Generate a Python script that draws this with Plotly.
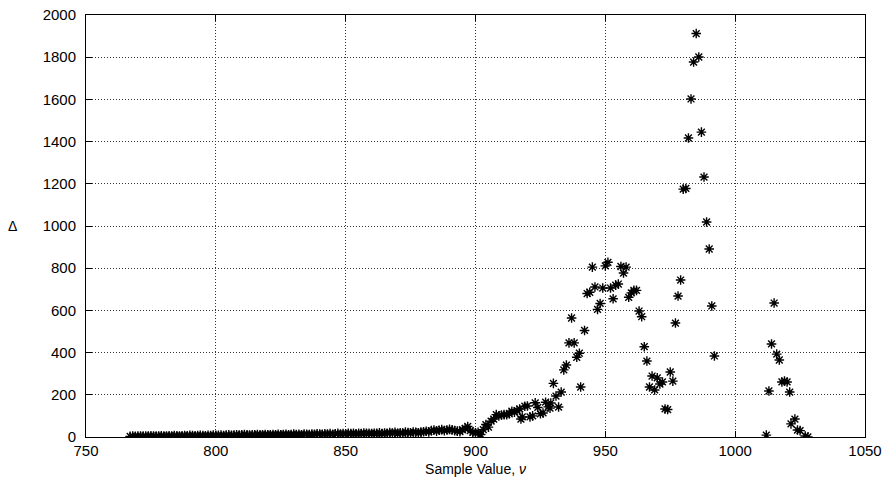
import plotly.graph_objects as go

# Low tail (integer sample values 767..899)
tail_x = list(range(767, 900))
tail_y = [3, 4, 3, 5, 4, 4, 5, 4, 6, 5, 4, 5, 6, 5,
          5, 6, 5, 7, 6, 5, 6, 7, 6, 8, 7, 6, 7, 8, 7, 6, 8, 7, 9, 8,
          8, 9, 7, 9, 10, 8, 9, 11, 9, 10, 12, 10, 9, 11, 10, 12, 11, 10, 12, 11,
          11, 12, 10, 13, 11, 12, 13, 11, 12, 14, 12, 13, 11, 14, 13, 12, 14, 13, 15, 14,
          13, 15, 14, 16, 13, 15, 17, 14, 16, 15, 17, 16, 18, 15, 17, 16, 19, 17, 18, 16,
          18, 17, 20, 16, 19, 18, 21, 19, 22, 17, 20, 19, 23, 21, 19, 24, 22, 20, 23, 25,
          27, 24, 30, 33, 28, 32, 35, 30, 33, 36, 34, 30, 28, 25, 35, 40, 50, 30, 22]

# Rising part and peaks
peak_x = [900, 901, 902, 903, 904, 905, 906, 907, 908, 909, 910, 911, 912, 913, 914,
          915, 916, 917, 917.5, 918, 919, 920, 921, 922, 923, 924, 925, 926, 927, 928,
          928.7, 929, 930, 931, 932, 933, 934, 935, 936, 937, 938, 939, 940, 940.5,
          942, 943, 944, 945, 946, 947, 948, 949, 950, 951, 952, 953, 954, 955, 956,
          957, 958, 959, 960, 961, 962, 963, 964, 965, 966, 967, 968, 969, 970, 971,
          972, 973, 974, 975, 976, 977, 978, 979, 980, 981, 982, 983, 984, 985, 986,
          987, 988, 989, 990, 991, 992,
          1012, 1013, 1014, 1015, 1016, 1017, 1018, 1019, 1020, 1021, 1021.5, 1023,
          1024, 1025, 1027, 1028]
peak_y = [20, 22, 12, 35, 59, 47, 75, 85, 106, 100, 104, 106, 106, 110, 122,
          118, 125, 133, 85, 95, 146, 147, 95, 100, 162, 140, 110, 114, 165, 143,
          137, 161, 254, 194, 142, 213, 318, 341, 446, 564, 446, 378, 397, 237,
          505, 680, 686, 805, 711, 605, 633, 706, 811, 828, 706, 655, 720, 725, 808,
          777, 805, 662, 683, 695, 695, 597, 570, 428, 360, 237, 289, 223, 280, 251,
          261, 133, 130, 308, 265, 540, 668, 744, 1175, 1178, 1417, 1602, 1777, 1912, 1801,
          1445, 1232, 1019, 891, 621, 384,
          9, 218, 441, 635, 393, 365, 261, 265, 261, 213, 62, 85,
          33, 30, 5, 0]

x_vals = tail_x + peak_x
y_vals = tail_y + peak_y

x_ticks = [750, 800, 850, 900, 950, 1000, 1050]
y_ticks = [0, 200, 400, 600, 800, 1000, 1200, 1400, 1600, 1800, 2000]

fig = go.Figure()
fig.add_trace(go.Scatter(
    x=x_vals, y=y_vals, mode="markers",
    marker=dict(symbol="asterisk-open", size=8, color="black",
                line=dict(color="black", width=1.4)),
    showlegend=False, cliponaxis=True))

axis_font = dict(family="Liberation Sans", size=15, color="black")
common = dict(showline=True, linecolor="black", linewidth=1, mirror="ticks",
              ticks="inside", ticklen=6, tickcolor="black",
              showgrid=True, gridcolor="#333333", griddash="1px,2px", gridwidth=1,
              zeroline=False, tickfont=axis_font, automargin=False)

fig.update_xaxes(range=[750, 1050], tickvals=x_ticks, ticktext=[str(v) for v in x_ticks],
                 title=dict(text="Sample Value, <i>ν</i>", font=dict(family="Liberation Sans", size=14, color="black"), standoff=6),
                 ticklabelstandoff=0, **common)
fig.update_yaxes(range=[0, 2000], tickvals=y_ticks, ticktext=[str(v) for v in y_ticks],
                 ticklabelstandoff=6, **common)

fig.add_annotation(text="Δ", xref="paper", yref="paper", x=-0.094, y=0.5,
                   showarrow=False, font=dict(family="Liberation Sans", size=14, color="black"),
                   xanchor="center", yanchor="middle")

fig.update_layout(width=886, height=482, margin=dict(l=86, r=21, t=15, b=45, autoexpand=False),
                  plot_bgcolor="white", paper_bgcolor="white")

fig.write_html("out.html")
